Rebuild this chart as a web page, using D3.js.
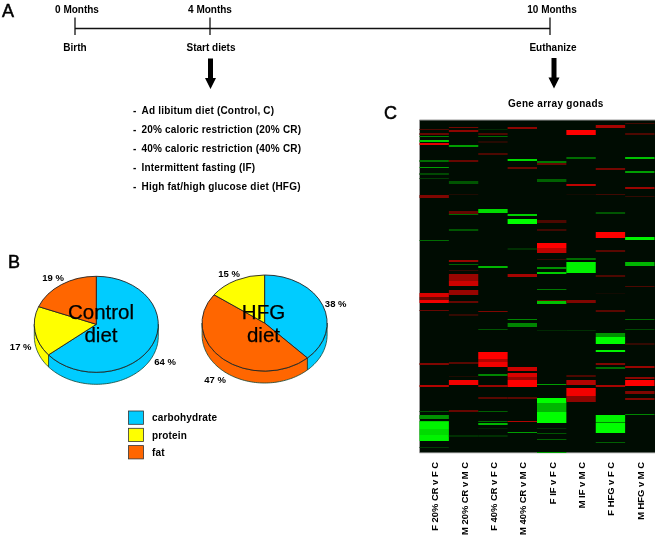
<!DOCTYPE html>
<html><head><meta charset="utf-8">
<script src="https://cdn.jsdelivr.net/npm/d3@7/dist/d3.min.js"></script>
<style>
html,body{margin:0;padding:0;background:#fff}
svg{display:block;filter:blur(0.4px)}
text{font-family:"Liberation Sans",Arial,sans-serif;fill:#000}
.b{font-weight:700;font-size:10px}
</style></head><body><div id="c"></div>
<script>
// ---- data ----
const timelineMonths=[0,4,10];
const timelineTop=["0 Months","4 Months","10 Months"];
const timelineBottom=["Birth","Start diets","Euthanize"];
const dietList=["Ad libitum diet (Control, C)","20% caloric restriction (20% CR)","40% caloric restriction (40% CR)","Intermittent fasting (IF)","High fat/high glucose diet (HFG)"];
const nutrients=["carbohydrate","protein","fat"];
const nutrientColors=["#00ccff","#ffff00","#ff6600"];
const controlDiet=[64,17,19];
const hfgDiet=[38,15,47];
const controlOrder=[0,1,2];
const hfgOrder=[0,2,1];
const comparisons=["F 20% CR v F C","M 20% CR v M C","F 40% CR v F C","M 40% CR v M C","F IF v F C","M IF v M C","F HFG  v F C","M HFG  v M C"];
// each band: [gene row, rows spanned, log ratio: + red / - green]
const f20=[[9,1,.3],[13,2,.4],[16,1,-.5],[20,2,-.8],[23,2,.9],[40,2,-.4],[47,1,-.6],[53,2,-.25],[58,1,-.2],[75,3,.5],[120,1,-.4],[173,4,.85],[177,3,.4],[180,3,.95],[190,1,.4],[243,2,.5],[265,2,.7],[291,1,-.3],[295,4,-.55],[301,1,-.8],[302,7,-.95],[309,6,-.85],[315,6,-.95],[327,1,-.2]];
const m20=[[7,1,.45],[10,2,.55],[25,2,-.6],[40,2,.4],[61,3,-.3],[74,1,.12],[91,3,.4],[94,1,-.4],[109,2,-.3],[140,2,.6],[144,1,-.35],[150,1,.2],[154,7,.6],[161,5,.8],[170,5,.6],[181,2,.4],[194,2,.2],[242,2,.35],[256,1,.12],[260,5,.95],[290,2,.4],[315,2,-.15]];
const f40=[[9,1,-.12],[13,2,.3],[16,1,-.4],[21,2,.15],[33,2,.3],[89,4,-.85],[146,2,-.7],[191,1,.5],[209,1,-.3],[232,7,1],[239,3,.7],[242,5,.95],[254,2,-.5],[265,2,.6],[277,2,.35],[291,1,-.35],[301,1,-.4],[303,2,-.7],[308,1,-.1],[315,2,-.15]];
const m40=[[7,2,.55],[39,2,-.85],[47,2,.4],[94,2,-.8],[99,5,-1],[128,2,-.15],[154,3,.65],[199,1,-.5],[203,4,-.5],[247,4,.8],[253,4,.85],[257,3,.6],[260,7,1],[277,2,.35],[301,1,.7],[312,1,-.6]];
const fIF=[[41,2,-.45],[43,2,.4],[59,3,-.35],[100,3,.3],[109,2,.25],[123,5,1],[128,5,.75],[139,1,.2],[147,2,-.55],[152,2,-.8],[169,1,-.45],[180,1,.4],[181,3,-.75],[210,1,-.12],[264,1,-.6],[278,5,-1],[283,9,-.7],[292,11,-1],[308,1,-.15],[313,1,-.3],[319,1,-.35],[332,1,-.6]];
const mIF=[[10,5,1],[37,2,-.4],[64,2,.75],[74,1,.07],[138,2,-.4],[142,11,-.95],[180,3,.5],[210,1,-.15],[255,2,.3],[260,5,.7],[268,8,.95],[276,6,.55]];
const fHFG=[[5,3,.65],[48,2,.45],[74,1,.25],[92,2,-.3],[112,6,1],[130,2,.35],[155,2,.3],[173,1,.07],[190,2,.35],[213,4,-.55],[217,7,-1],[230,2,-.95],[243,2,.5],[247,2,-.4],[265,2,.65],[295,7,-.95],[302,1,-.5],[303,10,-1],[322,1,-.35]];
const mHFG=[[3,1,.25],[13,2,.3],[37,2,-.75],[51,2,-.6],[67,2,.6],[76,1,.2],[117,3,-.95],[142,4,-.7],[166,1,.3],[199,1,-.4],[209,1,-.25],[223,2,.2],[246,2,.6],[257,2,.55],[260,6,1],[271,3,.5],[278,2,.5],[294,1,-.5]];
const heatColumns=[f20,m20,f40,m40,fIF,mIF,fHFG,mHFG];
const totalRows=333;

// ---- drawing ----
const W=656,H=536,ink="#111";
const svg=d3.select("#c").append("svg").attr("width",W).attr("height",H);

function panel(t,x,y){svg.append("text").attr("x",x).attr("y",y).attr("font-size",18).attr("stroke","#000").attr("stroke-width",.5).text(t);}
panel("A",2,17);panel("B",8,268);panel("C",384,119);

// A: timeline
const tx=d3.scaleLinear().domain(timelineMonths).range([75,210,550]);
const tl=svg.append("g");
tl.append("line").attr("x1",tx(0)).attr("x2",tx(10)).attr("y1",28.5).attr("y2",28.5).attr("stroke",ink).attr("stroke-width",1.6);
timelineMonths.forEach((m,i)=>{
  tl.append("line").attr("x1",tx(m)).attr("x2",tx(m)).attr("y1",17.5).attr("y2",35).attr("stroke",ink).attr("stroke-width",1.3);
  const dx=[2,0,2][i];
  tl.append("text").attr("class","b").attr("x",tx(m)+dx).attr("y",i==2?13.3:12.6).attr("text-anchor","middle").text(timelineTop[i]);
  tl.append("text").attr("class","b").attr("x",tx(m)+(i==0?0:dx+1)).attr("y",50.6).attr("text-anchor","middle").text(timelineBottom[i]);
});
function arrow(x,y0,y1){
  svg.append("path").attr("fill","#000").attr("d",`M${x-2.5},${y0}H${x+2.5}V${y1-11}H${x+5.5}L${x},${y1}L${x-5.5},${y1-11}H${x-2.5}Z`);
}
arrow(tx(4)+.5,58.5,89);arrow(tx(10)+4,58,88.5);
svg.append("text").attr("class","b").attr("x",508).attr("y",107).attr("letter-spacing",.3).text("Gene array gonads");
dietList.forEach((d,i)=>{
  const y=113.5+i*19;
  svg.append("text").attr("class","b").attr("x",133).attr("y",y).text("-");
  svg.append("text").attr("class","b").attr("x",141.5).attr("y",y).attr("letter-spacing",.2).text(d);
});

// B: pies
function pie3d(values,order,cx,cy,rx,ry,depth,pcts,titleCx,title){
  const slices=d3.pie().sort((a,b)=>0)(order.map(k=>values[k]));
  const g=svg.append("g").attr("transform",`translate(${cx},${cy})`);
  const px=a=>rx*Math.sin(a),py=a=>-ry*Math.cos(a);
  const line=d3.line();
  slices.forEach((s,i)=>{
    const a0=Math.max(s.startAngle,Math.PI/2),a1=Math.min(s.endAngle,Math.PI*1.5);
    if(a1<=a0)return;
    const as=d3.range(a0,a1,0.03).concat([a1]);
    const pts=as.map(a=>[px(a),py(a)]).concat(as.slice().reverse().map(a=>[px(a),py(a)+depth]));
    g.append("path").attr("d",line(pts)+"Z").attr("fill",nutrientColors[order[i]]).attr("stroke","#143").attr("stroke-width",.8);
  });
  const arc=d3.arc().innerRadius(0).outerRadius(1);
  slices.forEach((s,i)=>{
    g.append("path").attr("d",arc(s)).attr("transform",`scale(${rx},${ry})`)
     .attr("fill",nutrientColors[order[i]]).attr("stroke","#222").attr("stroke-width",.9).attr("vector-effect","non-scaling-stroke");
  });
  title.forEach((t,i)=>svg.append("text").attr("x",titleCx).attr("y",319+i*22.7).attr("text-anchor","middle").attr("font-size",20.5).attr("stroke","#000").attr("stroke-width",.25).text(t));
  pcts.forEach(p=>svg.append("text").attr("class","b").style("font-size","9.5px").attr("x",p[0]).attr("y",p[1]).attr("text-anchor","middle").text(p[2]));
}
pie3d(controlDiet,controlOrder,96.3,324.3,62,48,12,[[165,364.5,controlDiet[0]+" %"],[20.7,349.5,controlDiet[1]+" %"],[53,281,controlDiet[2]+" %"]],101,["Control","diet"]);
pie3d(hfgDiet,hfgOrder,264.6,323,62.5,48,12,[[335.7,306.5,hfgDiet[0]+" %"],[229,276.5,hfgDiet[1]+" %"],[215,383,hfgDiet[2]+" %"]],263.5,["HFG","diet"]);

nutrients.forEach((n,i)=>{
  const y=411+i*17.3;
  svg.append("rect").attr("x",128.5).attr("y",y).attr("width",15).attr("height",13.3).attr("fill",nutrientColors[i]).attr("stroke","#333").attr("stroke-width",.8);
  svg.append("text").attr("class","b").attr("x",152).attr("y",y+10.3).attr("letter-spacing",.15).text(n);
});

// C: heat map
const hx=d3.scaleBand().domain(comparisons).range([419.5,654.5]);
const hy=d3.scaleLinear().domain([0,totalRows]).range([120,453]);
const color=d3.scaleLinear().domain([-1,0,1]).range(["#00ff00","#000c02","#ff0000"]);
const hm=svg.append("g");
hm.append("rect").attr("x",419.5).attr("y",120).attr("width",235.5).attr("height",333).attr("fill",color(0));
hm.append("path").attr("d","M419.5,453V120H655").attr("fill","none").attr("stroke","#999").attr("stroke-width",1);
hm.append("path").attr("d","M419.5,453H655").attr("fill","none").attr("stroke","#ccc").attr("stroke-width",1);
heatColumns.forEach((col,i)=>{
  hm.append("g").selectAll("rect").data(col).join("rect")
    .attr("x",hx(comparisons[i])).attr("width",hx.bandwidth())
    .attr("y",d=>hy(d[0])).attr("height",d=>hy(d[0]+d[1])-hy(d[0]))
    .attr("fill",d=>color(d[2]));
});
comparisons.forEach(c=>{
  const x=hx(c)+hx.bandwidth()/2+4;
  svg.append("text").attr("class","b").style("font-size","9.4px").attr("transform",`translate(${x},462) rotate(-90)`).attr("text-anchor","end").text(c);
});
</script></body></html>
